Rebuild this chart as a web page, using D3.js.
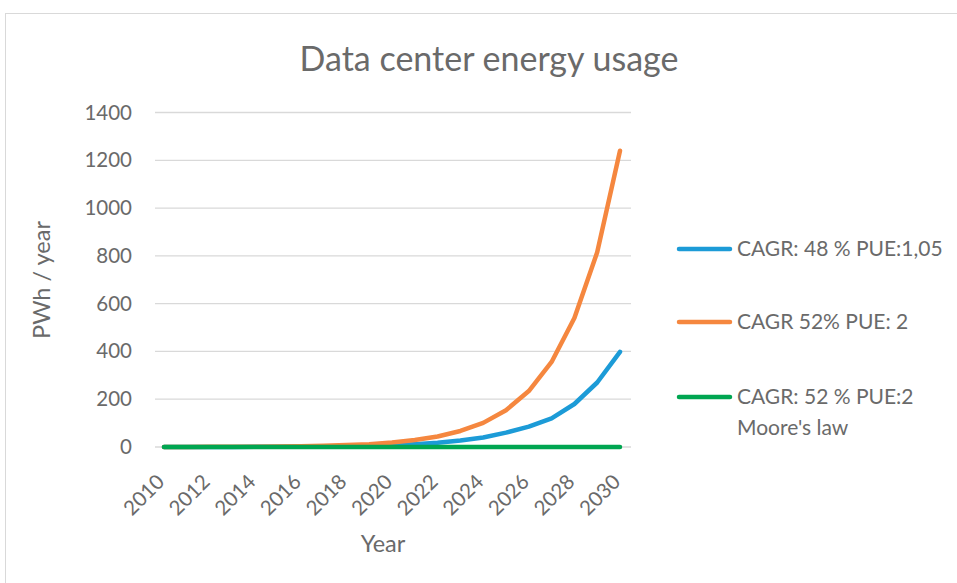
<!DOCTYPE html>
<html><head><meta charset="utf-8">
<script src="https://cdn.jsdelivr.net/npm/d3@7"></script>
<style>body{margin:0;background:#fff;} svg{display:block;}</style>
</head><body>
<script>
const years = d3.range(2010, 2031);
const seriesNames = ["CAGR: 48 % PUE:1,05", "CAGR 52% PUE: 2", "CAGR: 52 % PUE:2"];
const blueValues = [0.16,0.24,0.35,0.5,0.8,1.1,1.7,2.5,3.7,5.5,8,12,18,27,40,60,85,120,180,270,398];
const orangeValues = [0.3,0.4,0.6,1,1.5,2.3,3.5,5.4,8,12,19,29,44,67,101,154,234,356,540,815,1240];
const greenValues = [0.1,0.1,0.1,0.1,0.1,0.1,0.1,0.1,0.1,0.1,0.1,0.1,0.1,0.1,0.1,0.1,0.1,0.1,0.1,0.1,0.1];
const yTicks = [0,200,400,600,800,1000,1200,1400];
const xTicks = [2010,2012,2014,2016,2018,2020,2022,2024,2026,2028,2030];
const colors = ["#1C9BD7","#F5873F","#00A651"];
const font = "Lato, 'Open Sans', sans-serif";
const textCol = "#6a6a6a";

const W = 957, H = 583;
const svg = d3.select("body").append("svg").attr("width", W).attr("height", H);
svg.append("rect").attr("x",5.5).attr("y",13.5).attr("width",W).attr("height",H).attr("fill","#fff").attr("stroke","#d9d9d9");

const x = d3.scaleLinear().domain([2010,2030]).range([164,620]);
const y = d3.scaleLinear().domain([0,1400]).range([447,112.5]);

// gridlines
svg.append("g").selectAll("line").data(yTicks).join("line")
  .attr("x1",155).attr("x2",631).attr("y1",d=>y(d)).attr("y2",d=>y(d))
  .attr("stroke","#d9d9d9").attr("stroke-width",1.3);

// y axis
const ya = svg.append("g").attr("transform","translate(155,0)")
  .call(d3.axisLeft(y).tickValues(yTicks).tickFormat(d3.format("d")).tickSize(0).tickPadding(23));
ya.select(".domain").remove();
ya.selectAll("text").attr("font-family",font).attr("font-size",20.5).attr("fill",textCol);

// x axis
const xa = svg.append("g").attr("transform","translate(0,447)")
  .call(d3.axisBottom(x).tickValues(xTicks).tickFormat(d3.format("d")).tickSize(0));
xa.select(".domain").remove();
xa.selectAll("text").attr("font-family",font).attr("font-size",20.5).attr("fill",textCol)
  .attr("text-anchor","end").attr("dy",0)
  .attr("transform","translate(-1,34) rotate(-45)");

// lines
const line = d3.line().x((d,i)=>x(years[i])).y(d=>y(d));
[blueValues, orangeValues, greenValues].forEach((vals,k)=>{
  svg.append("path").datum(vals).attr("d",line).attr("fill","none")
    .attr("stroke",colors[k]).attr("stroke-width",4.5)
    .attr("stroke-linecap","round").attr("stroke-linejoin","round");
});

// title
svg.append("text").attr("x",489).attr("y",71).attr("text-anchor","middle")
  .attr("font-family",font).attr("font-size",34).attr("fill",textCol).text("Data center energy usage");

// axis titles
svg.append("text").attr("transform","translate(50,280) rotate(-90)").attr("text-anchor","middle")
  .attr("font-family",font).attr("font-size",23.5).attr("fill",textCol).text("PWh / year");
svg.append("text").attr("x",383).attr("y",552).attr("text-anchor","middle")
  .attr("font-family",font).attr("font-size",23.5).attr("fill",textCol).text("Year");

// legend
const legY = [249, 322, 397];
seriesNames.forEach((n,k)=>{
  svg.append("line").attr("x1",679).attr("x2",730).attr("y1",legY[k]).attr("y2",legY[k])
    .attr("stroke",colors[k]).attr("stroke-width",4.5).attr("stroke-linecap","round");
  svg.append("text").attr("x",737).attr("y",legY[k]+7).attr("font-family",font)
    .attr("font-size",21).attr("fill",textCol).text(n);
});
svg.append("text").attr("x",737).attr("y",435).attr("font-family",font)
  .attr("font-size",21).attr("fill",textCol).text("Moore's law");
</script>
</body></html>
